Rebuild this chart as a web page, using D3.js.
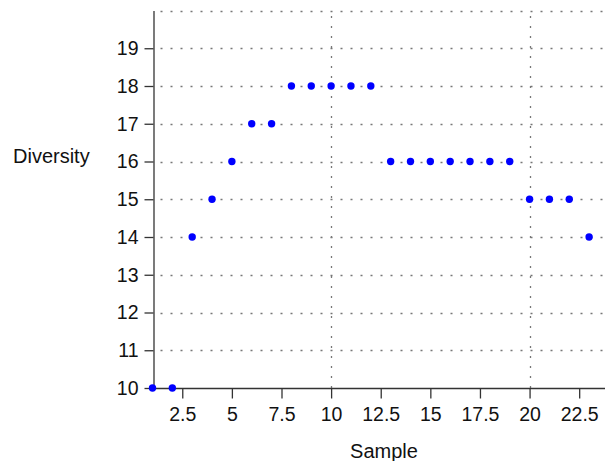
<!DOCTYPE html>
<html><head><meta charset="utf-8">
<script src="https://cdn.jsdelivr.net/npm/d3@7"></script>
<style>body{margin:0;background:#fff}svg{display:block}text{font-family:"Liberation Sans",Arial,sans-serif}</style>
</head><body>
<svg id="c" width="605" height="461"></svg>
<script>
const samples = [1,2,3,4,5,6,7,8,9,10,11,12,13,14,15,16,17,18,19,20,21,22,23];
const diversity = [10,10,14,15,16,17,17,18,18,18,18,18,16,16,16,16,16,16,16,15,15,15,14];
const xTicks = [2.5,5,7.5,10,12.5,15,17.5,20,22.5];
const yTicks = [10,11,12,13,14,15,16,17,18,19];
const yGrid = [11,12,13,14,15,16,17,18,19,20];
const xGrid = [10,20];

const svg = d3.select("#c");
const x = d3.scaleLinear().domain([1, 23.7]).range([152.5, 603]);
const y = d3.scaleLinear().domain([10, 20]).range([388, 10.5]);
const fs = 19.5, fsT = 20;

// grid
svg.append("g").selectAll("line").data(yGrid).join("line")
  .attr("x1", x(1)).attr("x2", 603).attr("y1", d=>Math.round(y(d))+0.5).attr("y2", d=>Math.round(y(d))+0.5)
  .attr("stroke", "#777").attr("stroke-width", 1.3).attr("stroke-dasharray", "2,8").attr("stroke-dashoffset", -8);
svg.append("g").selectAll("line").data(xGrid).join("line")
  .attr("x1", d=>Math.round(x(d))+0.5).attr("x2", d=>Math.round(x(d))+0.5).attr("y1", y(10)).attr("y2", y(20))
  .attr("stroke", "#777").attr("stroke-width", 1.3).attr("stroke-dasharray", "2,8");

// axes
const xAxis = d3.axisBottom(x).tickValues(xTicks).tickSize(10).tickPadding(9).tickSizeOuter(0)
  .tickFormat(d => String(d));
const gx = svg.append("g").attr("transform", `translate(0,${Math.round(y(10))+0.5})`).call(xAxis);
gx.select(".domain").attr("d", `M${x(1)},0H605`);
const yAxis = d3.axisLeft(y).tickValues(yTicks).tickSize(9).tickPadding(6).tickSizeOuter(0)
  .tickFormat(d3.format("d"));
const gy = svg.append("g").attr("transform", `translate(${Math.round(x(1))+0.5},0)`).call(yAxis);
[gx, gy].forEach(g => {
  g.attr("font-size", fs);
  g.selectAll("path,line").attr("stroke", "#333").attr("stroke-width", 1.3);
  g.selectAll("text").attr("fill", "#111").attr("font-size", fs).style("font-size", fs + "px");
});

// points
svg.append("g").selectAll("circle").data(samples).join("circle")
  .attr("cx", (d)=>x(d)).attr("cy", (d,i)=>y(diversity[i])).attr("r", 3.7)
  .attr("fill", "#0000ff");

// labels
svg.append("text").attr("x", 13).attr("y", 163).style("font-size", fsT + "px").attr("fill", "#111").text("Diversity");
svg.append("text").attr("x", 384).attr("y", 458).attr("text-anchor", "middle").style("font-size", fsT + "px").attr("fill", "#111").text("Sample");
</script>
</body></html>
